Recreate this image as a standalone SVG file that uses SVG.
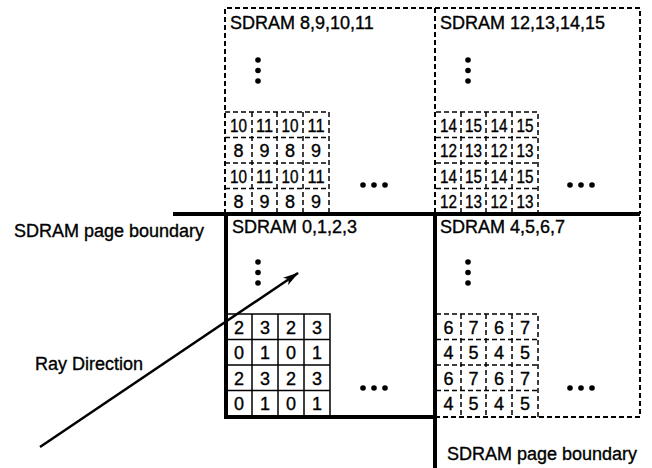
<svg xmlns="http://www.w3.org/2000/svg" width="652" height="468" viewBox="0 0 652 468">
  <style>
    text { font-family: "Liberation Sans", Arial, Helvetica, sans-serif; fill: #000; stroke: #000; stroke-width: 0.35; }
    .lbl { font-size: 18px; }
    .num { font-size: 18px; text-anchor: middle; }
    .thick { stroke: #000; stroke-width: 4; fill: none; }
    .dash { stroke: #000; stroke-width: 2; fill: none; stroke-dasharray: 5 3; }
    .gdash { stroke: #000; stroke-width: 1.5; fill: none; stroke-dasharray: 5 3; }
    .gsolid { stroke: #000; stroke-width: 1.5; fill: none; }
    .dot { fill: #000; }
  </style>
  <defs>
    <marker id="arrowhead" markerWidth="16" markerHeight="10" refX="15" refY="5" orient="auto" markerUnits="userSpaceOnUse">
      <path d="M0,0.5 L16,5 L0,9.5 L4,5 Z" fill="#000"/>
    </marker>
    <g id="vdots">
      <circle cx="0" cy="0" r="2.8"/>
      <circle cx="0" cy="10.5" r="2.8"/>
      <circle cx="0" cy="21" r="2.8"/>
    </g>
    <g id="hdots">
      <circle cx="0" cy="0" r="2.8"/>
      <circle cx="11" cy="0" r="2.8"/>
      <circle cx="22" cy="0" r="2.8"/>
    </g>
  </defs>

  <!-- SDRAM 8,9,10,11 (upper left bank) -->
  <g id="bank-8-11">
    <path class="dash" d="M225,214 V8 H435"/>
    <text class="lbl" x="230" y="29">SDRAM 8,9,10,11</text>
    <use href="#vdots" x="258" y="60" class="dot"/>
    <path class="gdash" d="M225,112 H329 V214 M225,137.5 H329 M225,163 H329 M225,188.5 H329 M252,112 V214 M277,112 V214 M303,112 V214"/>
    <g>
      <text class="num" x="238.5" y="131.5" textLength="17" lengthAdjust="spacingAndGlyphs">10</text>
      <text class="num" x="264.5" y="131.5" textLength="17" lengthAdjust="spacingAndGlyphs">11</text>
      <text class="num" x="290" y="131.5" textLength="17" lengthAdjust="spacingAndGlyphs">10</text>
      <text class="num" x="316" y="131.5" textLength="17" lengthAdjust="spacingAndGlyphs">11</text>
      <text class="num" x="238.5" y="157">8</text>
      <text class="num" x="264.5" y="157">9</text>
      <text class="num" x="290" y="157">8</text>
      <text class="num" x="316" y="157">9</text>
      <text class="num" x="238.5" y="182.5" textLength="17" lengthAdjust="spacingAndGlyphs">10</text>
      <text class="num" x="264.5" y="182.5" textLength="17" lengthAdjust="spacingAndGlyphs">11</text>
      <text class="num" x="290" y="182.5" textLength="17" lengthAdjust="spacingAndGlyphs">10</text>
      <text class="num" x="316" y="182.5" textLength="17" lengthAdjust="spacingAndGlyphs">11</text>
      <text class="num" x="238.5" y="208">8</text>
      <text class="num" x="264.5" y="208">9</text>
      <text class="num" x="290" y="208">8</text>
      <text class="num" x="316" y="208">9</text>
    </g>
    <use href="#hdots" x="363" y="185" class="dot"/>
  </g>

  <!-- SDRAM 12,13,14,15 (upper right bank) -->
  <g id="bank-12-15">
    <path class="dash" d="M435,8 H640 V214 M435,8 V214"/>
    <text class="lbl" x="440" y="29">SDRAM 12,13,14,15</text>
    <use href="#vdots" x="468" y="60" class="dot"/>
    <path class="gdash" d="M436,112 H538 V214 M436,137.5 H538 M436,163 H538 M436,188.5 H538 M461,112 V214 M486,112 V214 M512,112 V214"/>
    <g>
      <text class="num" x="448.5" y="131.5" textLength="17" lengthAdjust="spacingAndGlyphs">14</text>
      <text class="num" x="473.5" y="131.5" textLength="17" lengthAdjust="spacingAndGlyphs">15</text>
      <text class="num" x="499" y="131.5" textLength="17" lengthAdjust="spacingAndGlyphs">14</text>
      <text class="num" x="525" y="131.5" textLength="17" lengthAdjust="spacingAndGlyphs">15</text>
      <text class="num" x="448.5" y="157" textLength="17" lengthAdjust="spacingAndGlyphs">12</text>
      <text class="num" x="473.5" y="157" textLength="17" lengthAdjust="spacingAndGlyphs">13</text>
      <text class="num" x="499" y="157" textLength="17" lengthAdjust="spacingAndGlyphs">12</text>
      <text class="num" x="525" y="157" textLength="17" lengthAdjust="spacingAndGlyphs">13</text>
      <text class="num" x="448.5" y="182.5" textLength="17" lengthAdjust="spacingAndGlyphs">14</text>
      <text class="num" x="473.5" y="182.5" textLength="17" lengthAdjust="spacingAndGlyphs">15</text>
      <text class="num" x="499" y="182.5" textLength="17" lengthAdjust="spacingAndGlyphs">14</text>
      <text class="num" x="525" y="182.5" textLength="17" lengthAdjust="spacingAndGlyphs">15</text>
      <text class="num" x="448.5" y="208" textLength="17" lengthAdjust="spacingAndGlyphs">12</text>
      <text class="num" x="473.5" y="208" textLength="17" lengthAdjust="spacingAndGlyphs">13</text>
      <text class="num" x="499" y="208" textLength="17" lengthAdjust="spacingAndGlyphs">12</text>
      <text class="num" x="525" y="208" textLength="17" lengthAdjust="spacingAndGlyphs">13</text>
    </g>
    <use href="#hdots" x="570" y="185" class="dot"/>
  </g>

  <!-- SDRAM 4,5,6,7 (lower right bank) -->
  <g id="bank-4-7">
    <path class="dash" d="M435,417 H640 V214"/>
    <text class="lbl" x="440" y="233">SDRAM 4,5,6,7</text>
    <use href="#vdots" x="468" y="262" class="dot"/>
    <path class="gdash" d="M436,314 H538 V417 M436,339.5 H538 M436,365 H538 M436,390.5 H538 M461,314 V417 M486,314 V417 M512,314 V417"/>
    <g>
      <text class="num" x="448.5" y="333.5">6</text>
      <text class="num" x="473.5" y="333.5">7</text>
      <text class="num" x="499" y="333.5">6</text>
      <text class="num" x="525" y="333.5">7</text>
      <text class="num" x="448.5" y="359">4</text>
      <text class="num" x="473.5" y="359">5</text>
      <text class="num" x="499" y="359">4</text>
      <text class="num" x="525" y="359">5</text>
      <text class="num" x="448.5" y="384.5">6</text>
      <text class="num" x="473.5" y="384.5">7</text>
      <text class="num" x="499" y="384.5">6</text>
      <text class="num" x="525" y="384.5">7</text>
      <text class="num" x="448.5" y="410">4</text>
      <text class="num" x="473.5" y="410">5</text>
      <text class="num" x="499" y="410">4</text>
      <text class="num" x="525" y="410">5</text>
    </g>
    <use href="#hdots" x="570" y="388" class="dot"/>
  </g>

  <!-- SDRAM 0,1,2,3 (lower left bank, current page) -->
  <g id="bank-0-3">
    <path class="gsolid" d="M226,314 H330 V417 M226,339.5 H330 M226,365 H330 M226,390.5 H330 M252,314 V417 M278,314 V417 M304,314 V417"/>
    <path class="thick" d="M226,214 V417 H435"/>
    <text class="lbl" x="232" y="233">SDRAM 0,1,2,3</text>
    <use href="#vdots" x="258" y="262" class="dot"/>
    <g>
      <text class="num" x="239" y="333.5">2</text>
      <text class="num" x="265" y="333.5">3</text>
      <text class="num" x="291" y="333.5">2</text>
      <text class="num" x="317" y="333.5">3</text>
      <text class="num" x="239" y="359">0</text>
      <text class="num" x="265" y="359">1</text>
      <text class="num" x="291" y="359">0</text>
      <text class="num" x="317" y="359">1</text>
      <text class="num" x="239" y="384.5">2</text>
      <text class="num" x="265" y="384.5">3</text>
      <text class="num" x="291" y="384.5">2</text>
      <text class="num" x="317" y="384.5">3</text>
      <text class="num" x="239" y="410">0</text>
      <text class="num" x="265" y="410">1</text>
      <text class="num" x="291" y="410">0</text>
      <text class="num" x="317" y="410">1</text>
    </g>
    <use href="#hdots" x="363" y="388" class="dot"/>
  </g>

  <!-- page boundaries -->
  <g id="page-boundary-h">
    <line class="thick" x1="173" y1="214" x2="640" y2="214"/>
    <text class="lbl" x="14" y="237">SDRAM page boundary</text>
  </g>
  <g id="page-boundary-v">
    <line class="thick" x1="435" y1="214" x2="435" y2="468"/>
    <text class="lbl" x="447" y="460">SDRAM page boundary</text>
  </g>

  <!-- ray -->
  <g id="connectors">
    <line x1="40" y1="447" x2="298" y2="273" stroke="#000" stroke-width="2.5" marker-end="url(#arrowhead)"/>
  </g>
  <g id="ray-label">
    <text class="lbl" x="35" y="370">Ray Direction</text>
  </g>
</svg>
